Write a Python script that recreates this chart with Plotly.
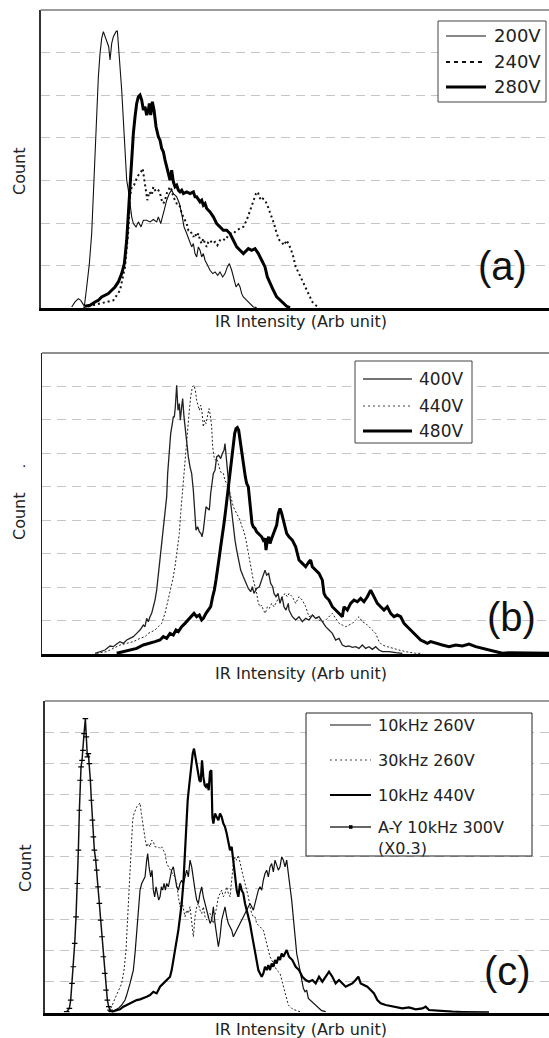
import plotly.graph_objects as go

W, H = 549, 1038

# ---------------- DATA (arbitrary units) ----------------
# Panel (a)
a_x_200 = [125,135,145,152,158,163,170,178,185,190,195,200,205,210,215,220,228,236,240,245,250,255,258,262,265,270,
           275,280,285,290,295,300,305,310,318,325,333,340,350,360,370,380,385,392,398,405,410,418,425,430,440,448,455,462,470,478,
           485,490,495,500,505,510,515,520,525,530,540,548,555,563,570,578,585,592,598,605,610,618,625,630,635,640,648,655,662,670,680]
a_y_200 = [4,19,29,24,14,6,64,134,224,344,484,594,694,764,809,829,804,784,744,794,814,824,829,832,794,724,
           654,564,474,384,354,304,274,254,244,259,244,264,264,259,266,259,274,254,274,304,324,344,354,344,334,314,284,244,224,204,
           184,194,164,154,184,174,154,164,144,134,114,104,109,99,109,94,104,124,134,114,94,64,74,64,44,34,26,19,9,4,2]

a_x_240 = [160,250,270,285,295,300,305,312,318,325,333,338,343,348,352,358,365,370,375,380,385,390,395,400,405,410,415,420,425,430,
           435,440,445,450,455,460,465,470,475,480,485,490,495,500,505,510,515,520,525,530,535,540,548,555,562,570,578,585,592,600,
           610,620,630,640,650,660,665,672,678,683,688,692,698,705,712,718,725,732,740,748,755,762,770,782,790,797,807,817,827,837,
           847,857,869]
a_y_240 = [2,24,54,124,234,334,364,369,384,399,409,419,384,344,324,349,339,364,354,359,354,344,324,314,324,344,354,364,354,334,
           324,314,314,304,284,274,264,254,234,234,224,214,224,214,224,204,194,209,194,184,199,204,194,199,189,204,209,204,214,224,
           224,234,239,244,264,294,304,324,344,349,334,324,329,324,309,294,274,254,224,204,199,189,204,179,154,124,104,84,64,39,
           19,9,2]

a_x_280 = [165,180,195,205,215,225,235,245,255,265,275,283,290,295,300,305,310,315,320,325,330,335,340,345,350,355,358,362,367,372,
           378,385,390,395,400,405,410,415,420,425,430,435,440,445,450,455,460,470,480,490,495,500,505,510,515,520,525,530,540,550,
           560,570,580,590,600,610,620,630,640,655,665,675,685,695,705,712,720,730,740,750,760,770,780]
a_y_280 = [6,9,19,24,34,39,44,54,64,79,104,134,204,284,364,464,524,574,614,634,639,624,594,604,579,594,614,579,619,594,
           544,514,504,479,469,444,424,404,384,414,379,364,369,354,349,354,344,349,344,349,334,334,324,319,324,309,314,299,289,274,
           254,244,234,234,224,204,184,174,164,179,174,179,164,144,124,94,74,54,34,24,14,6,2]

# Panel (b)
b_x_400 = [195,210,225,240,250,260,270,280,290,300,310,320,330,340,345,350,355,360,365,370,375,380,385,390,395,400,405,410,413,418,
           422,427,430,433,436,440,444,448,451,455,458,462,465,470,475,480,485,490,495,498,503,508,513,516,520,524,528,533,538,542,
           546,550,555,560,566,572,577,582,585,588,592,596,600,605,610,615,620,625,632,640,648,655,662,667,672,680,688,695,700,705,
           710,716,722,728,732,738,744,750,756,762,768,775,
           777,787,797,807,817,827,837,847,857,867,877,887,897,907,917,927,937,947,957,967,977,987,997,1007,1017,1027,1037,1047,1057,
           1077,1097,1117]
b_y_400 = [2,7,12,24,22,30,37,32,42,47,52,62,72,87,82,107,97,112,122,142,162,192,242,292,342,372,422,472,542,622,
           662,692,712,712,742,807,732,752,702,742,767,712,682,622,592,562,542,492,432,372,382,367,362,352,372,402,442,437,432,482,
           512,542,552,592,597,587,602,612,632,592,542,512,472,422,382,342,312,282,252,232,212,197,187,202,182,197,202,222,242,252,
           237,242,212,202,182,172,182,152,172,142,132,152,
           132,112,102,112,97,107,102,117,107,112,97,82,72,62,42,47,27,22,24,20,22,17,27,17,22,14,22,12,7,
           7,4,2]

b_x_440 = [200,230,250,270,290,310,330,345,355,365,375,385,395,405,412,420,428,435,442,448,452,456,460,463,467,470,474,478,482,487,
           492,496,500,504,508,512,516,520,524,528,533,537,541,545,548,552,556,560,565,570,575,580,585,590,595,600,605,610,615,620,
           625,630,636,642,648,655,662,668,675,680,685,690,695,700,706,712,718,725,732,738,745,750,758,765,772,
           777,787,797,807,817,827,837,847,857,867,877,887,897,907,917,927,937,947,957,967,977,987,997,1007,1017,1027,1037,1047,1057,
           1072,1087,1107,1127,1157,1177]
b_y_440 = [2,7,17,27,32,37,47,52,62,67,72,82,92,122,152,182,222,262,312,362,422,472,522,572,612,652,692,732,772,802,
           807,792,762,742,732,747,727,682,702,692,712,737,717,682,622,592,582,587,572,552,542,542,522,512,502,482,462,442,432,422,
           412,402,382,367,342,302,262,232,202,182,152,142,147,132,122,142,137,152,142,152,167,162,172,182,172,
           182,172,152,172,162,142,112,117,112,102,97,102,112,122,107,92,87,82,87,92,102,112,97,92,82,72,62,37,27,
           22,17,12,7,2,2]

b_x_480 = [260,280,300,320,340,360,375,390,400,410,420,430,438,445,455,465,475,485,492,500,508,515,520,528,535,542,548,553,558,563,
           568,572,577,582,587,592,597,602,606,610,614,618,622,626,630,634,638,642,646,650,655,658,662,666,670,675,680,685,690,695,
           700,705,708,712,716,720,725,730,735,740,745,750,755,760,765,770,
           777,787,797,807,817,827,837,842,847,857,867,877,882,887,897,907,917,927,937,942,952,962,972,982,992,1002,1012,1022,1032,1042,
           1052,1062,1072,1082,1092,1102,1112,1122,1132,1142,1152,1162,1172,1182,1192,1202,1217,1237,1257,1277,1297,1317,1337,1357,1377,
           1397,1417,1437,1477,1517,1557]
b_y_480 = [2,7,12,17,27,32,37,42,52,47,62,57,72,67,82,92,102,112,122,112,117,102,107,122,132,142,172,192,222,252,
           292,322,352,392,432,472,522,562,602,632,662,677,680,672,642,612,582,552,532,512,502,472,422,392,382,377,367,362,357,352,
           342,347,312,342,352,332,347,362,372,387,422,437,422,402,382,362,
           352,342,322,282,272,262,277,282,262,252,242,222,182,172,162,142,132,122,112,142,132,152,162,157,167,157,172,192,172,152,
           142,132,142,122,112,117,112,92,82,72,62,52,42,37,32,37,32,27,22,27,24,30,22,17,12,
           7,2,4,4,2,2]

# Panel (c)
c_x_ay = [110,118,122,126,130,134,138,142,145,148,150,153,156,159,162,166,169,172,175,178,
          181,184,187,190,193,197,200,204,208,212,216,220,224,228,232,236,240,245]
c_y_ay = [3,13,38,88,138,208,288,388,488,608,698,738,758,788,838,883,828,768,778,748,
          698,638,578,528,488,458,428,378,328,278,228,168,118,68,38,18,8,3]

c_x_30k = [235,245,255,265,275,282,288,292,296,300,304,308,312,316,320,325,330,334,338,342,
           346,350,355,360,365,370,375,380,385,390,395,400,405,410,415,420,425,430,435,440,
           445,450,455,460,465,470,475,480,485,490,495,500,505,510,515,520,525,530,540,550,
           560,565,570,575,580,585,590,595,600,605,610,615,620,625,630,635,640,645,650,655,
           660,665,670,675,680,690,700,705,710,715,720,730,740,750,755,760,765,770,775,785,795,810]
c_y_30k = [3,18,43,63,88,128,188,268,348,448,528,578,598,608,618,623,630,598,568,548,
           518,498,508,498,518,513,498,498,498,493,498,488,478,448,438,428,418,413,408,388,
           348,318,338,308,288,308,298,318,278,228,288,318,328,308,298,318,288,278,298,268,
           318,348,358,368,348,358,378,358,348,408,448,468,458,473,448,428,408,388,368,348,
           318,298,288,288,268,258,248,228,208,188,168,148,128,118,98,78,58,38,23,13,8,3]

c_x_260 = [245,255,265,275,285,290,295,300,305,310,315,320,325,330,335,340,345,350,353,357,
           362,366,370,374,378,382,386,390,394,398,402,406,410,415,420,425,430,435,440,445,
           450,455,460,465,470,475,480,485,490,495,500,505,510,515,520,525,530,535,540,545,
           550,555,560,565,570,575,580,585,590,595,600,605,610,615,620,625,630,635,640,645,
           650,655,660,665,670,675,680,685,690,695,700,705,710,715,720,725,730,735,740,745,
           750,755,760,765,770,775,
           780,785,790,795,800,805,810,815,820,825,830,835,845,855,865,875,887]
c_y_260 = [3,8,13,23,38,53,68,88,108,128,178,248,318,368,388,398,408,458,478,438,
           408,428,368,348,378,358,338,348,378,368,388,368,388,378,408,428,438,408,378,368,
           388,398,388,408,428,408,458,438,398,368,338,328,358,378,348,328,308,288,268,278,
           318,268,228,198,228,278,298,318,288,268,258,248,228,238,248,258,268,278,288,298,
           308,318,328,318,308,328,348,368,378,368,398,418,428,408,438,448,423,458,443,428,
           438,468,458,438,458,408,
           378,338,288,228,178,153,128,98,73,63,68,43,33,23,13,6,3]

c_x_440 = [245,260,270,280,290,300,310,320,330,340,350,360,370,380,390,400,410,420,425,430,
           435,440,445,450,455,460,463,466,470,473,476,480,484,488,492,496,500,504,508,512,
           516,520,524,528,532,536,540,544,547,550,555,560,565,570,575,580,585,590,595,600,
           605,610,615,620,625,630,635,640,645,650,655,660,665,670,675,680,685,690,695,700,
           705,710,715,720,725,730,735,740,745,750,755,760,765,770,
           777,787,797,807,817,827,837,847,857,867,877,887,897,907,917,927,937,947,957,967,
           977,985,992,1002,1012,1022,1032,1042,1052,1067,1082,1097,1117,1137,1157,1177,1187,1197,1217,1237,
           1267,1297,1337,1377]
c_y_440 = [3,6,10,18,23,28,33,38,40,43,48,53,63,58,78,88,98,108,128,158,
           178,208,248,288,328,388,448,528,588,638,668,708,738,778,793,768,748,728,698,693,
           758,708,683,678,688,668,723,728,588,568,598,588,578,598,588,568,558,538,508,488,
           498,458,408,368,348,388,368,358,328,308,288,268,238,208,188,148,128,118,108,118,
           138,128,143,128,148,138,158,148,168,158,178,168,178,188,
           168,158,138,128,108,98,93,98,88,108,93,108,123,108,88,98,88,78,83,88,
           98,108,88,83,78,68,58,38,28,23,20,18,13,16,10,13,18,8,6,5,
           3,2,1,1]

legend_a = ["200V", "240V", "280V"]
legend_b = ["400V", "440V", "480V"]
legend_c = ["10kHz 260V", "30kHz 260V", "10kHz 440V", "A-Y 10kHz 300V<br>(X0.3)"]
panel_tags = ["(a)", "(b)", "(c)"]
x_title = "IR Intensity (Arb unit)"
y_title = "Count"

# ---------------- GEOMETRY (pixels of the page) ----------------
def px(x):
    return x / W

def py(y):
    return 1 - y / H

panels = {
    "a": dict(left=40.7, top=10, bottom=308.3, xr=[32, 1557], yr=[0, 894], n=7),
    "b": dict(left=42.0, top=353, bottom=654.0, xr=[36, 1557], yr=[0, 904], n=9),
    "c": dict(left=44.7, top=701, bottom=1012.7, xr=[44, 1557], yr=[0, 936], n=10),
}

FONT = "DejaVu Sans"
BIG = "Liberation Sans"

fig = go.Figure()

def add(x, y, ax, name, width, dash="solid", color="#111", mode="lines", marker=None):
    kw = dict(x=x, y=y, name=name, mode=mode, showlegend=False,
              line=dict(color=color, width=width, dash=dash),
              xaxis="x" + ax, yaxis="y" + ax)
    if marker:
        kw["marker"] = marker
    fig.add_trace(go.Scatter(**kw))

# Panel a
add(a_x_200, a_y_200, "", legend_a[0], 1.1)
add(a_x_240, a_y_240, "", legend_a[1], 2, dash="2px,3px")
add(a_x_280, a_y_280, "", legend_a[2], 3, color="#000")
# Panel b
add(b_x_400, b_y_400, "2", legend_b[0], 1.3, color="#222")
add(b_x_440, b_y_440, "2", legend_b[1], 1, dash="2px,2px", color="#222")
add(b_x_480, b_y_480, "2", legend_b[2], 3, color="#000")
# Panel c
add(c_x_30k, c_y_30k, "3", "30kHz 260V", 1, dash="2px,2px", color="#222")
add(c_x_260, c_y_260, "3", "10kHz 260V", 1.2, color="#111")
add(c_x_440, c_y_440, "3", "10kHz 440V", 2.2, color="#000")
add(c_x_ay, c_y_ay, "3", "A-Y 10kHz 300V (X0.3)", 1.5, color="#111", mode="lines+markers",
    marker=dict(symbol="line-ew", size=4, line=dict(width=1.2, color="#000"), color="#000"))

layout = dict(width=W, height=H, margin=dict(l=0, r=0, t=0, b=0),
              paper_bgcolor="white", plot_bgcolor="white", showlegend=False,
              font=dict(family=FONT, color="#222"))

shapes = []
annotations = []
frame_style = {
    "a": dict(top_c="#7a7a7a", top_w=1.6, left_c="#333", left_w=1.6, bot_w=3),
    "b": dict(top_c="#222", top_w=1.1, left_c="#222", left_w=1.3, bot_w=2.5),
    "c": dict(top_c="#7a7a7a", top_w=1.6, left_c="#333", left_w=1.6, bot_w=3),
}
for i, key in enumerate(["a", "b", "c"]):
    p = panels[key]
    s = frame_style[key]
    suf = "" if i == 0 else str(i + 1)
    layout["xaxis" + suf] = dict(domain=[px(p["left"]), 1], range=p["xr"], anchor="y" + suf,
                                  showgrid=False, zeroline=False, showticklabels=False, ticks="",
                                  showline=True, linecolor="#000", linewidth=s["bot_w"], fixedrange=True)
    layout["yaxis" + suf] = dict(domain=[py(p["bottom"]), py(p["top"])], range=p["yr"], anchor="x" + suf,
                                  showgrid=True, gridcolor="#c6c6c6", gridwidth=1, griddash="9px,6px",
                                  tick0=0, dtick=p["yr"][1] / p["n"],
                                  zeroline=False, showticklabels=False, ticks="",
                                  showline=True, linecolor=s["left_c"], linewidth=s["left_w"], fixedrange=True)
    shapes.append(dict(type="line", xref="paper", yref="paper", x0=px(p["left"]), x1=1,
                       y0=py(p["top"]), y1=py(p["top"]), line=dict(color=s["top_c"], width=s["top_w"])))

# Axis titles and panel tags
for yy in [322, 673.5, 1029]:
    annotations.append(dict(text=x_title, x=px(301), y=py(yy), xref="paper", yref="paper",
                            showarrow=False, xanchor="center", yanchor="middle",
                            font=dict(family=FONT, size=16, color="#222")))
for (xx, yy) in [(19, 171), (19, 516), (25, 868)]:
    annotations.append(dict(text=y_title, x=px(xx), y=py(yy), xref="paper", yref="paper",
                            showarrow=False, textangle=-90, xanchor="center", yanchor="middle",
                            font=dict(family=FONT, size=16, color="#222")))
annotations.append(dict(text=".", x=px(24), y=py(462), xref="paper", yref="paper", showarrow=False,
                        xanchor="center", yanchor="middle", font=dict(family=FONT, size=14, color="#222")))
for tag, (xx, yy) in zip(panel_tags, [(502.5, 266), (511.5, 617), (507, 971)]):
    annotations.append(dict(text=tag, x=px(xx), y=py(yy), xref="paper", yref="paper",
                            showarrow=False, xanchor="center", yanchor="middle",
                            font=dict(family=BIG, size=40, color="#111")))

# Legend boxes (drawn inside each panel)
def legend_box(x0, y0, x1, y1, color):
    shapes.append(dict(type="rect", xref="paper", yref="paper", x0=px(x0), x1=px(x1),
                       y0=py(y1), y1=py(y0), line=dict(color=color, width=1), fillcolor="white"))

def legend_item(sx0, sx1, y, tx, text, width, dash, color, size):
    shapes.append(dict(type="line", xref="paper", yref="paper", x0=px(sx0), x1=px(sx1),
                       y0=py(y), y1=py(y), line=dict(color=color, width=width, dash=dash)))
    annotations.append(dict(text=text, x=px(tx), y=py(y), xref="paper", yref="paper",
                            showarrow=False, xanchor="left", yanchor="middle", align="left",
                            font=dict(family=FONT, size=size, color="#222")))

legend_box(438, 21, 546, 102, "#444")
legend_item(446, 486, 36, 492, legend_a[0], 1.1, "solid", "#111", 18)
legend_item(446, 486, 62, 492, legend_a[1], 2, "4px,4px", "#111", 18)
legend_item(446, 486, 87, 492, legend_a[2], 3, "solid", "#000", 18)

legend_box(355, 361, 472, 443, "#444")
legend_item(363, 412, 379, 417, legend_b[0], 1.5, "solid", "#444", 17)
legend_item(363, 412, 406, 417, legend_b[1], 1, "2px,3px", "#444", 17)
legend_item(363, 412, 431, 417, legend_b[2], 3, "solid", "#000", 17)

legend_box(306, 713, 532, 856, "#222")
legend_item(330, 371, 725, 376, legend_c[0], 1.2, "solid", "#111", 16)
legend_item(330, 371, 760, 376, legend_c[1], 1, "2px,3px", "#444", 16)
legend_item(330, 371, 795, 376, legend_c[2], 2.2, "solid", "#000", 16)
shapes.append(dict(type="line", xref="paper", yref="paper", x0=px(330), x1=px(371),
                   y0=py(827), y1=py(827), line=dict(color="#333", width=1.5)))
shapes.append(dict(type="rect", xref="paper", yref="paper", x0=px(349), x1=px(352.5),
                   y0=py(828.8), y1=py(825.2), line=dict(width=0), fillcolor="#000"))
annotations.append(dict(text=legend_c[3], x=px(376), y=py(837.5), xref="paper", yref="paper",
                        showarrow=False, xanchor="left", yanchor="middle", align="left",
                        font=dict(family=FONT, size=16, color="#222")))

layout["shapes"] = shapes
layout["annotations"] = annotations
fig.update_layout(**layout)

# Page without default body margin so the 549x1038 figure fills the window exactly
fig.write_html("out.html",
               config={"displayModeBar": False, "staticPlot": True},
               post_script="document.body.style.margin='0';document.body.style.padding='0';"
                           "document.documentElement.style.overflow='hidden';document.body.style.overflow='hidden';")
